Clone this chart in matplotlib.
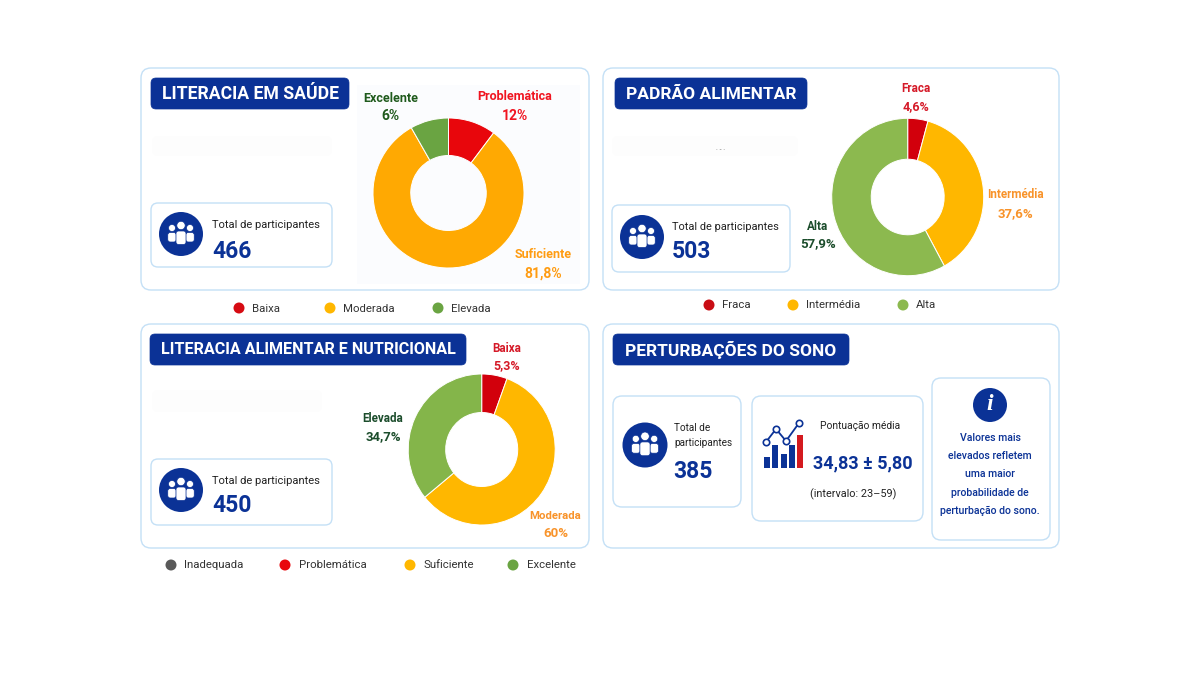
import matplotlib
matplotlib.use("Agg")
import matplotlib.pyplot as plt
from matplotlib.patches import FancyBboxPatch, Circle, Rectangle

plt.rcParams['font.family'] = ['Roboto', 'DejaVu Sans']

# ---- data ----
health_shares = [10.2, 81.6, 8.2]
health_labels = ["Problemática", "Suficiente", "Excelente"]
health_pct = ["12%", "81,8%", "6%"]
diet_shares = [4.3, 37.7, 58.0]
diet_labels = ["Fraca", "Intermédia", "Alta"]
diet_pct = ["4,6%", "37,6%", "57,9%"]
food_shares = [5.6, 58.5, 35.9]
food_labels = ["Baixa", "Moderada", "Elevada"]
food_pct = ["5,3%", "60%", "34,7%"]
totals = [466, 503, 450, 385]
legend1 = ["Baixa", "Moderada", "Elevada"]
legend2 = ["Fraca", "Intermédia", "Alta"]
legend3 = ["Inadequada", "Problemática", "Suficiente", "Excelente"]
titles = ["LITERACIA EM SAÚDE", "PADRÃO ALIMENTAR",
          "LITERACIA ALIMENTAR E NUTRICIONAL", "PERTURBAÇÕES DO SONO"]
icon_bars = [11, 23, 14, 23, 33]
icon_line_x = [766, 776, 786, 799]
icon_line_y = [442, 429, 441, 423]
note_lines = ["Valores mais", "elevados refletem", "uma maior",
              "probabilidade de", "perturbação do sono."]

NAVY = "#0b3296"
BORDER = "#c4e0f6"
RED = "#e8060c"
DRED = "#d2000c"
ORANGE = "#ffa902"
AMBER = "#ffb700"
GREEN = "#6aa442"
LGREEN = "#84b54a"
TXT_RED = "#f01420"
TXT_DRED = "#d51a28"
TXT_OR = "#ff9c12"
TXT_OR2 = "#f8932a"
TXT_GR = "#1f5a1c"
TXT_GR2 = "#1c4d2c"

W, H = 1200, 675
fig = plt.figure(figsize=(W/100, H/100), dpi=100, facecolor="white")
bg = fig.add_axes([0, 0, 1, 1])
bg.set_xlim(0, W)
bg.set_ylim(H, 0)
bg.axis("off")


def card(x0, y0, x1, y1, r=10, ec=BORDER, lw=1.0, fc="white", z=1):
    bg.add_patch(FancyBboxPatch((x0+r, y0+r), x1-x0-2*r, y1-y0-2*r,
                                boxstyle=f"round,pad={r},rounding_size={r}",
                                fc=fc, ec=ec, lw=lw, zorder=z))


def title(x0, y0, x1, y1, s, size):
    card(x0, y0, x1, y1, r=5, ec=NAVY, fc=NAVY, lw=0.5, z=3)
    bg.text((x0+x1)/2, (y0+y1)/2+0.5, s, color="white", fontsize=size,
            fontweight="bold", ha="center", va="center", zorder=4)


def people(cx, cy, r=22):
    k = r/22
    bg.add_patch(Circle((cx, cy), r, fc=NAVY, ec="none", zorder=4))
    for dx, dy, hr, bw, top, bot in [(-9, -6, 3.5, 8.5, -1.5, 8), (9, -6, 3.5, 8.5, -1.5, 8),
                                     (0, -8.5, 4.2, 10, -3, 10.5)]:
        bg.add_patch(Circle((cx+dx*k, cy+dy*k), hr*k, fc="white", ec=NAVY, lw=.5, zorder=5))
        bg.add_patch(FancyBboxPatch((cx+(dx-bw/2)*k, cy+top*k), bw*k, (bot-top)*k,
                                    boxstyle=f"round,pad=0,rounding_size={2.5*k}",
                                    fc="white", ec=NAVY, lw=.5, zorder=5))


def donut(cx, cy, rx, ry, hole, shares, cols):
    ax = fig.add_axes([(cx-rx)/W, 1-(cy+ry)/H, 2*rx/W, 2*ry/H])
    ax.pie(shares, colors=cols, startangle=90, counterclock=False, radius=1,
           wedgeprops=dict(width=1-hole, edgecolor="white", linewidth=0.7))
    ax.set_xlim(-1, 1)
    ax.set_ylim(-1, 1)
    ax.set_aspect("auto")
    ax.patch.set_alpha(0)


def lab(x, y1, y2, name, pct, col, size=9, psize=10):
    bg.text(x, y1+1, name, color=col, fontsize=size, fontweight="bold", ha="center", va="center", zorder=6)
    bg.text(x, y2+0.5, pct, color=col, fontsize=psize, fontweight="bold", ha="center", va="center", zorder=6)


def legend(items, xs, tx, y, cols, size=8.2):
    for s, x, t, c in zip(items, xs, tx, cols):
        bg.add_patch(Circle((x, y), 5.5, fc=c, ec="none", zorder=3))
        bg.text(t, y+0.5, s, fontsize=size, color="#333333", ha="left", va="center", zorder=3)


# outer cards
card(141, 68, 589, 290, r=10)
card(603, 68, 1059, 290, r=10)
card(141, 324, 589, 548, r=10)
card(603, 324, 1059, 548, r=10)

# faint backgrounds
bg.add_patch(Rectangle((357, 85), 223, 199, fc="#fbfcfe", ec="none", zorder=1.5))
for (a, b, c, d) in [(152, 136, 332, 156), (612, 136, 798, 156), (152, 390, 322, 412)]:
    card(a, b, c, d, r=6, ec="none", fc="#fdfdfd", lw=0, z=1.6)
bg.text(721, 151, "· - ·", fontsize=5, color="#777777", ha="center", va="center", zorder=2)

# titles
title(151, 78, 349, 109, titles[0], 12.7)
title(615, 78, 807, 109, titles[1], 12.5)
title(150, 334, 466, 365, titles[2], 11.6)
title(613, 334, 849, 365, titles[3], 12.5)

# participants cards
for (a, b, c, d, cx, cy, tx, ty, ny, size, n) in [
        (151, 203, 332, 267, 181, 234, 212, 224.5, 251.5, 8.0, totals[0]),
        (612, 205, 790, 272, 642, 237, 672, 226.5, 251.5, 7.9, totals[1]),
        (151, 459, 332, 525, 181, 490, 212, 480.5, 505.5, 8.0, totals[2])]:
    card(a, b, c, d, r=7, z=2)
    people(cx, cy)
    bg.text(tx, ty, "Total de participantes", fontsize=size, color="#222222", va="center", zorder=5)
    bg.text(tx, ny, str(n), fontsize=16.5, color=NAVY, fontweight="bold", va="center", zorder=5)

# donuts
donut(448.5, 193, 75.5, 75, 0.5, health_shares, [RED, ORANGE, GREEN])
donut(907.7, 197, 76, 78.7, 0.48, diet_shares, [DRED, AMBER, "#8cb94f"])
donut(481.7, 449.5, 73.5, 75.5, 0.49, food_shares, [DRED, AMBER, LGREEN])

lab(515, 96, 115.5, health_labels[0], health_pct[0], TXT_RED)
lab(543, 254, 273, health_labels[1], health_pct[1], TXT_OR)
lab(390.5, 97, 116, health_labels[2], health_pct[2], TXT_GR)

lab(916, 88, 106, diet_labels[0], diet_pct[0], TXT_DRED, 8.4, 9)
lab(1015, 194, 213, diet_labels[1], diet_pct[1], TXT_OR2, 8.4, 9.5)
lab(818, 225, 243, diet_labels[2], diet_pct[2], TXT_GR2, 8.4, 9.5)

lab(507, 347, 365, food_labels[0], food_pct[0], TXT_DRED, 8.4, 9)
lab(555.5, 515, 533, food_labels[1], food_pct[1], TXT_OR2, 8.2, 9.5)
lab(383, 417, 436, food_labels[2], food_pct[2], TXT_GR2, 8.4, 9.5)

# legends
legend(legend1, [239, 330, 438], [252, 343, 451], 308, ["#d60b12", AMBER, GREEN])
legend(legend2, [709, 793, 903], [722, 806, 916], 305, ["#c90d14", AMBER, "#8cb94f"])
legend(legend3, [171, 285, 410, 513], [184, 299, 424, 527], 565,
       ["#595959", RED, AMBER, GREEN])

# sleep panel
card(613, 396, 741, 507, r=9, z=2)
people(645, 445, r=22.5)
bg.text(674, 428, "Total de", fontsize=7.2, color="#222222", va="center", zorder=5)
bg.text(674, 443, "participantes", fontsize=7.2, color="#222222", va="center", zorder=5)
bg.text(673, 471, str(totals[3]), fontsize=16.5, color=NAVY, fontweight="bold", va="center", zorder=5)

card(752, 396, 923, 521, r=9, z=2)
for i, h in enumerate(icon_bars):
    bg.add_patch(Rectangle((764+i*8.3, 468-h), 6, h,
                           fc="#d41a1f" if i == 4 else NAVY, ec="none", zorder=5))
bg.plot(icon_line_x, icon_line_y, color=NAVY, lw=1.3, zorder=5, marker="o", ms=4.6,
        mfc="white", mec=NAVY, mew=1.2)
bg.text(860, 425.5, "Pontuação média", fontsize=7.4, color="#222222", ha="center", va="center", zorder=5)
bg.text(863, 463, "34,83 ± 5,80", fontsize=13, color=NAVY, fontweight="bold", ha="center", va="center", zorder=5)
bg.text(853, 494, "(intervalo: 23–59)", fontsize=7.8, color="#222222", ha="center", va="center", zorder=5)

card(932, 378, 1050, 540, r=9, z=2)
bg.add_patch(Circle((990, 405), 17, fc=NAVY, ec="none", zorder=5))
bg.text(990, 405, "i", color="white", fontsize=17, fontweight="bold", fontstyle="italic",
        family="Liberation Serif", ha="center", va="center", zorder=6)
for i, s in enumerate(note_lines):
    bg.text(990, 438+18.2*i, s, fontsize=7.6, color=NAVY, fontweight="medium",
            ha="center", va="center", zorder=5)

fig.savefig("out.png", dpi=100, facecolor="white")
